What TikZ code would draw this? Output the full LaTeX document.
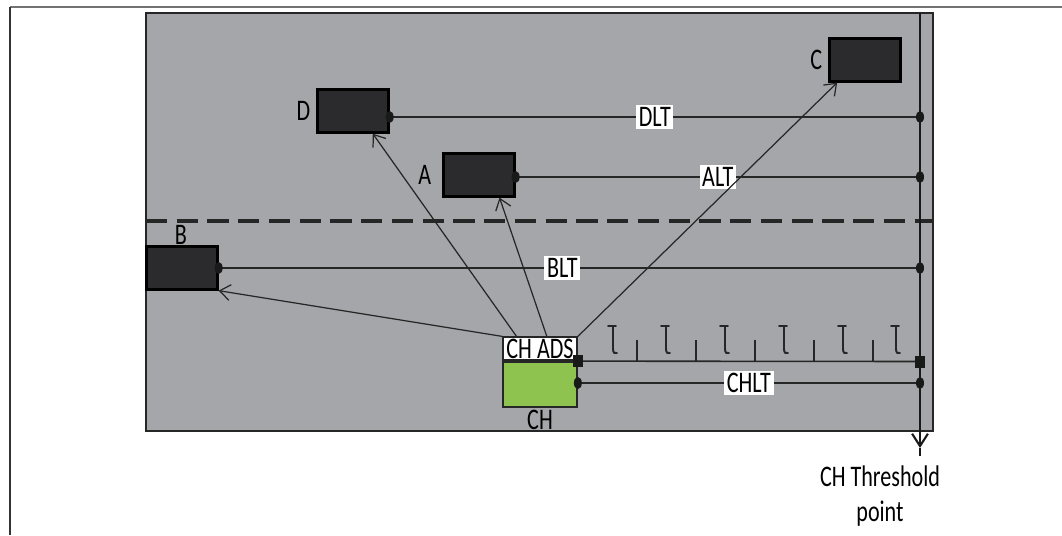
\documentclass[tikz,border=0pt]{standalone}
\usepackage{fontspec}
\usetikzlibrary{arrows.meta,calc}
\newfontfamily\lblfont[FakeStretch=0.74]{Carlito}
\definecolor{field}{HTML}{A4A6A9}
\definecolor{sensor}{HTML}{2B2A2D}
\definecolor{chgreen}{HTML}{8FC34F}
\begin{document}
\begin{tikzpicture}[x={(0.02cm,0)},y={(0,-0.02cm)},
  every node/.style={font=\lblfont\fontsize{17}{18}\selectfont},
  sensorbox/.style={draw=black,line width=1.3pt,fill=sensor,minimum width=1.42cm,minimum height=0.86cm,inner sep=0pt},
  linklabel/.style={fill=white,inner sep=1.5pt},
  link/.style={line width=0.9pt,draw=black!85},
  reach/.style={line width=0.7pt,draw=black!85,-{Straight Barb[length=6pt,width=9pt,line width=0.7pt]}},
  tower/.style={line width=1.1pt,draw=black!85,line cap=round}]
\useasboundingbox (0,0) rectangle (1062,535);
% outer frame
\draw[line width=1.2pt,draw=black!55] (10,7) -- (1062,7);
\draw[line width=1.1pt,draw=black!80] (10,7) -- (10,535);
% sensing field
\draw[line width=1.3pt,fill=field,draw=black!85] (146,13) rectangle (933,431);
% boundary between regions
\draw[line width=2.8pt,draw=black!85,dash pattern=on 12pt off 5.5pt] (146,221) -- (933,221);
% threshold line
\coordinate (ttop) at (920,13);
\coordinate (ttip) at (920,448);
\coordinate (tend) at (920,456);
\draw[line width=1.6pt,draw=black!90,-{Straight Barb[length=7pt,width=9pt,line width=1.2pt]}] (ttop) -- (ttip);
\draw[line width=1.6pt,draw=black!90] (ttip) -- (tend);
% sensor nodes
\node[sensorbox] (D) at (353,111) {};
\node[sensorbox] (A) at (479,175) {};
\node[sensorbox] (C) at (865,60) {};
\node[sensorbox] (B) at (182,268) {};
\node[anchor=east] (Dl) at (D.west) {D};
\node[anchor=east] (Al) at ([xshift=-0.1cm]A.west) {A};
\node[anchor=east] (Cl) at (C.west) {C};
\node (Bl) at (181,235) {B};
% cluster head
\node[draw=black!85,line width=1pt,fill=chgreen,minimum width=1.48cm,minimum height=0.9cm,inner sep=0pt] (CH) at (540,384.5) {};
\node[draw=black!85,line width=1pt,fill=white,minimum width=1.48cm,minimum height=0.46cm,inner sep=0pt,anchor=south] (ADS) at (CH.north) {CH ADS};
\node[anchor=north,inner sep=1pt] (CHl) at (CH.south) {CH};
% link lines to the threshold line
\coordinate (Dt) at (920,117);
\coordinate (At) at (920,177);
\coordinate (Bt) at (920,268);
\coordinate (CHt) at (920,383);
\coordinate (Dr) at (D.east |- Dt);
\coordinate (Ar) at (A.east |- At);
\coordinate (Br) at (B.east |- Bt);
\coordinate (CHr) at (CH.east |- CHt);
\draw[link] (Dr) -- node[linklabel,pos=0.5] (DLT) {DLT} (Dt);
\draw[link] (Ar) -- node[linklabel,pos=0.5] (ALT) {ALT} (At);
\draw[link] (Br) -- node[linklabel,pos=0.49] (BLT) {BLT} (Bt);
\draw[link] (CHr) -- node[linklabel,pos=0.5] (CHLT) {CHLT} (CHt);
\foreach \p in {Dr,Dt,Ar,At,Br,Bt,CHr,CHt}
  \fill[black!90] (\p) ellipse [x radius=4,y radius=6];
% tower line
\coordinate (Ws) at (CH.north east);
\coordinate (We) at (920,361.5);
\draw[link] (Ws) -- (We);
\foreach \p in {Ws,We}
  \fill[black!90] ($(\p)+(-5,-6)$) rectangle ($(\p)+(5,6)$);
\foreach \x in {637,696,755,814,873}
  \draw[line width=0.7pt,draw=black!85] (\x,362) -- (\x,340);
\foreach \x in {613,666,725,784,843,896}
  \draw[tower] (\x-5,326) -- (\x+3,326) (\x,326) -- (\x,349) .. controls (\x,353) and (\x+2,354) .. (\x+4,353);
% reachability arrows from the ADS
\draw[reach] (ADS.north west) -- (B.south east);
\draw[reach] ($(ADS.north west)!0.19!(ADS.north east)$) -- ($(D.south west)!0.77!(D.south east)$);
\draw[reach] ($(ADS.north west)!0.59!(ADS.north east)$) -- ($(A.south west)!0.78!(A.south east)$);
\draw[reach] (ADS.north east) -- ($(C.south west)!0.12!(C.south east)$);
% threshold label
\node[align=center,font=\lblfont\fontsize{17}{18}\selectfont] (TH) at (880,496) {CH Threshold\\[1.5pt]point};
\end{tikzpicture}
\end{document}
